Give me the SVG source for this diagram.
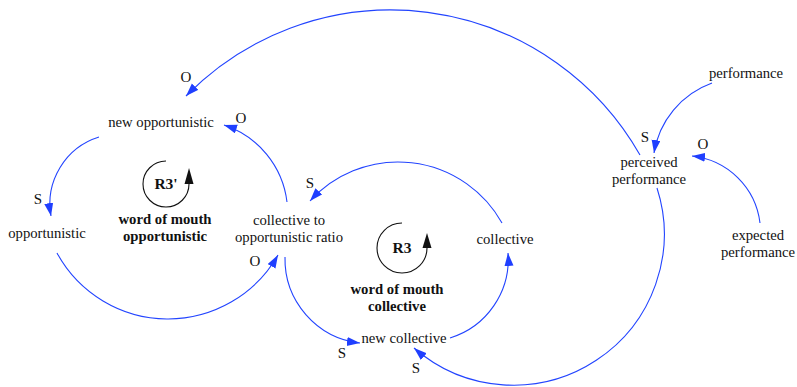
<svg xmlns="http://www.w3.org/2000/svg" width="797" height="387" viewBox="0 0 797 387">
<style>
.t{font-family:"Liberation Serif","Times New Roman",serif;font-size:14.7px;fill:#111;text-anchor:middle}
.b{font-weight:bold}
.p{font-family:"Liberation Serif","Times New Roman",serif;font-size:15px;fill:#111;text-anchor:middle}
.c{fill:none;stroke:#2244ff;stroke-width:1.1;marker-end:url(#ah)}
.loop{fill:none;stroke:#111;stroke-width:1.1}
</style>
<defs>
<marker id="ah" markerUnits="userSpaceOnUse" markerWidth="14" markerHeight="10" refX="13" refY="4.5" orient="auto">
<path d="M0,0 L13,4.5 L0,9 z" fill="#1f3fff"/>
</marker>
</defs>
<rect width="797" height="387" fill="#fff"/>
<g id="connectors">
<path class="c" d="M657,188 A151,151 0 0 1 414,348"/>
<path class="c" d="M640,155 A286.7,286.7 0 0 0 186,96"/>
<path class="c" d="M712,83 A89.5,89.5 0 0 0 654,153"/>
<path class="c" d="M760,223 A76.7,76.7 0 0 0 692,156"/>
<path class="c" d="M99,137 A69.9,69.9 0 0 0 51,216"/>
<path class="c" d="M57,253 A126.5,126.5 0 0 0 278,255"/>
<path class="c" d="M287,202 A92.8,92.8 0 0 0 224,125"/>
<path class="c" d="M502,223 A119,119 0 0 0 310,201"/>
<path class="c" d="M285,257 A84.7,84.7 0 0 0 360,343"/>
<path class="c" d="M450,338 A82.3,82.3 0 0 0 508,253"/>
</g>
<g id="polarities">
<text class="p" x="186" y="82">O</text>
<text class="p" x="241" y="123">O</text>
<text class="p" x="38" y="204">S</text>
<text class="p" x="310" y="188">S</text>
<text class="p" x="255" y="266">O</text>
<text class="p" x="342" y="358">S</text>
<text class="p" x="645" y="142">S</text>
<text class="p" x="703" y="149">O</text>
<text class="p" x="416" y="373">S</text>
</g>
<g id="new_opportunistic"><text class="t" x="161" y="127">new opportunistic</text></g>
<g id="opportunistic"><text class="t" x="47" y="238">opportunistic</text></g>
<g id="ratio"><text class="t" x="289" y="225">collective to</text><text class="t" x="289" y="242">opportunistic ratio</text></g>
<g id="collective"><text class="t" x="505" y="244">collective</text></g>
<g id="new_collective"><text class="t" x="404" y="343">new collective</text></g>
<g id="perceived_performance"><text class="t" x="649" y="167">perceived</text><text class="t" x="649" y="184">performance</text></g>
<g id="performance"><text class="t" x="746" y="78">performance</text></g>
<g id="expected_performance"><text class="t" x="758" y="240">expected</text><text class="t" x="758" y="257">performance</text></g>
<g id="loop_R3prime">
<path class="loop" d="M166,161 A23,23 0 1 0 189,184"/>
<polygon points="189,168 184.5,184 193.5,184" fill="#111"/>
<text class="t b" style="font-size:15.5px" x="166" y="189">R3'</text>
<text class="t b" x="165" y="224">word of mouth</text>
<text class="t b" x="165" y="241">opportunistic</text>
</g>
<g id="loop_R3">
<path class="loop" d="M402,223 A25,25 0 1 0 427,248"/>
<polygon points="427,233 422.5,248 431.5,248" fill="#111"/>
<text class="t b" style="font-size:15.5px" x="402" y="253">R3</text>
<text class="t b" x="397" y="294">word of mouth</text>
<text class="t b" x="397" y="311">collective</text>
</g>
</svg>
